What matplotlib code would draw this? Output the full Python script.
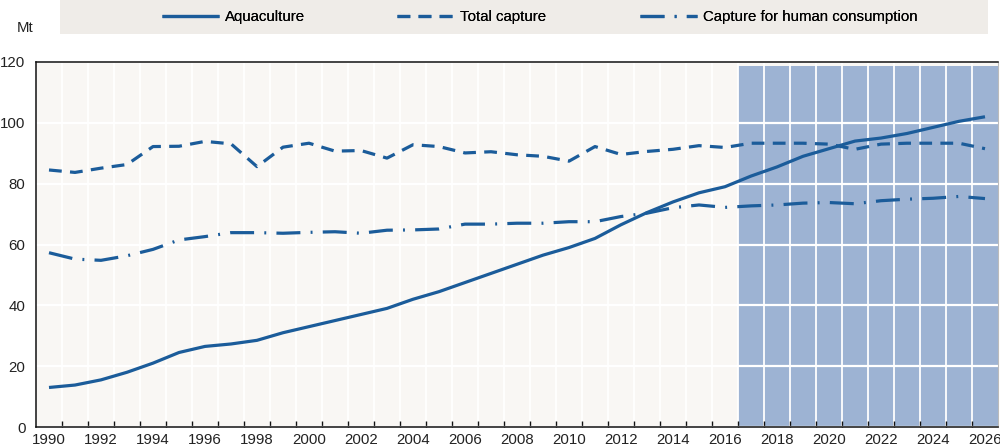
import matplotlib
matplotlib.use("Agg")
import matplotlib.pyplot as plt
from matplotlib.patches import Rectangle
from matplotlib.lines import Line2D
import numpy as np

years = list(range(1990, 2027))
aquaculture = [13, 13.8, 15.5, 18, 21, 24.5, 26.5, 27.3, 28.5, 31, 33, 35, 37, 39,
               42, 44.5, 47.5, 50.5, 53.5, 56.5, 59, 62, 66.5, 70.5, 74, 77, 79,
               82.5, 85.5, 89, 91.5, 94, 95, 96.5, 98.5, 100.5, 102]
total_capture = [84.5, 83.7, 85.1, 86.3, 92.2, 92.3, 93.9, 93.1, 85.6, 92, 93.3, 90.7,
                 90.9, 88.4, 92.8, 92.2, 90.1, 90.5, 89.5, 89, 87.4, 92.2, 89.6, 90.6,
                 91.3, 92.5, 91.9, 93.3, 93.3, 93.3, 93, 91.3, 93, 93.3, 93.3, 93.3, 91.5]
human_consumption = [57.3, 55.2, 54.8, 56.3, 58.4, 61.5, 62.6, 63.9, 63.9, 63.7, 64,
                     64.2, 63.7, 64.7, 64.8, 65.1, 66.7, 66.7, 67, 67, 67.5, 67.5, 69.2,
                     70.3, 72.1, 73, 72.2, 72.7, 73, 73.6, 73.8, 73.4, 74.4, 74.9, 75.2,
                     75.8, 75.1]
projection_start = 2017
series_labels = ["Aquaculture", "Total capture", "Capture for human consumption"]

blue = "#1b5c9a"
shade = "#9db3d3"
fs = 10.8
plt.rcParams['font.family'] = ['Liberation Sans', 'DejaVu Sans']

fig = plt.figure(figsize=(10, 4.47), dpi=100)
fig.patch.set_facecolor("white")
ax = fig.add_axes([0.036, 0.0447, 0.962, 0.8166])
ax.set_facecolor("#f9f7f4")

# legend background band
fig.patches.append(Rectangle((0.06, 0.924), 0.928, 0.076, transform=fig.transFigure,
                             facecolor="#efece8", edgecolor="none", zorder=0))

ax.axvspan(projection_start - 0.5, years[-1] + 0.5, ymin=0, ymax=118.8 / 120,
           facecolor=shade, edgecolor="none", zorder=0.2)

lw = 2.3
styles = [dict(linestyle="-", solid_capstyle="butt"),
          dict(linestyle=(0, (4, 2.6)), dash_capstyle="butt"),
          dict(linestyle=(0, (7.5, 3.2, 0.6, 3.2)), dash_capstyle="butt")]
for vals, lab, st in zip([aquaculture, total_capture, human_consumption], series_labels, styles):
    ax.plot(years, vals, color=blue, lw=lw, label=lab, zorder=3, **st)

ax.set_xlim(years[0] - 0.5, years[-1] + 0.5)
ax.set_ylim(0, 120)
ax.set_yticks(np.arange(0, 121, 20))
ax.set_xticks(years[::2])
ax.set_xticks(np.arange(years[0] + 0.5, years[-1], 1), minor=True)
ax.tick_params(axis="x", which="major", length=0, pad=4, labelsize=fs, colors="#222222")
ax.tick_params(axis="x", which="minor", length=4, width=1, direction="in", color="#111111")
ax.tick_params(axis="y", length=0, pad=7.5, labelsize=fs, colors="#222222")

ax.grid(axis="y", which="major", color="white", lw=1.6, zorder=0.5)
ax.grid(axis="x", which="minor", color="white", lw=1.3, zorder=0.5)
ax.set_axisbelow(True)

for side in ["left", "bottom", "top"]:
    ax.spines[side].set_color("#111111")
    ax.spines[side].set_linewidth(1.1)
ax.spines["right"].set_color("#bbbbbb")
ax.spines["right"].set_linewidth(0.8)

fig.text(0.025, 0.937, "Mt", ha="center", va="center", fontsize=fs, color="#222222")

# legend entries placed individually in the top band
legend_x = [0.162, 0.397, 0.640]
for x0, lab, st in zip(legend_x, series_labels, styles):
    h = Line2D([], [], color=blue, lw=lw, **st)
    leg = fig.legend([h], [lab], loc="center left", bbox_to_anchor=(x0, 0.962),
                     frameon=False, fontsize=fs, handlelength=3.8, handletextpad=0.4,
                     borderpad=0, borderaxespad=0)
    fig.add_artist(leg)

fig.savefig("out.png", dpi=100)
